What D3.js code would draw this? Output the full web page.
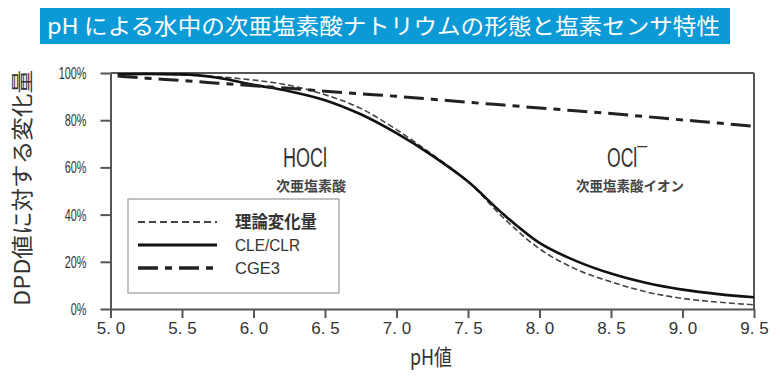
<!DOCTYPE html>
<html>
<head>
<meta charset="utf-8">
<script src="https://cdn.jsdelivr.net/npm/d3@7"></script>
<style>
body { margin:0; background:#fff; }
text { font-family: "Liberation Sans", "Noto Sans CJK JP", sans-serif; }
.jp { font-family: "Noto Sans CJK JP", sans-serif; }
</style>
</head>
<body>
<div class="chart"></div>
<script>
// pH values
const ph = [5.05, 5.25, 5.5, 5.75, 6.0, 6.25, 6.5, 6.75, 7.0, 7.25, 7.5, 7.75, 8.0, 8.25, 8.5, 8.75, 9.0, 9.25, 9.5]
const theory = [99.7, 99.6, 99.2, 98.4, 97, 94.8, 90.8, 85, 76, 65.5, 54, 38.5, 25.5, 17, 11.5, 7.2, 4.5, 2.9, 1.8]
const cleClr = [99.4, 99.6, 99.4, 98, 95, 92.3, 88.5, 82.5, 74.5, 65, 54, 40, 28, 20.5, 15, 11, 8.2, 6.3, 5]
const cge3 = [98.7, 97.8, 96.8, 95.7, 94.6, 93.5, 92.3, 91.2, 90.1, 88.9, 87.6, 86.4, 85.2, 84, 82.8, 81.5, 80.1, 78.8, 77.4]
const xTicks = [5.0, 5.5, 6.0, 6.5, 7.0, 7.5, 8.0, 8.5, 9.0, 9.5]
const yTicks = [0, 20, 40, 60, 80, 100]
const seriesNames = ["理論変化量", "CLE/CLR", "CGE3"]

const svg = d3.select(".chart").append("svg").attr("width", 780).attr("height", 376)

const x = d3.scaleLinear().domain([5, 9.5]).range([110.5, 754])
const y = d3.scaleLinear().domain([0, 100]).range([309, 73])

// title banner
svg.append("rect").attr("x", 40).attr("y", 8).attr("width", 690).attr("height", 36).attr("fill", "#0b9ad6")
svg.append("text").attr("class", "jp").attr("x", 47).attr("y", 34).attr("fill", "white")
   .attr("font-size", 22).attr("textLength", 673).attr("lengthAdjust", "spacingAndGlyphs")
   .text("pH による水中の次亜塩素酸ナトリウムの形態と塩素センサ特性")

// frame (top + right)
svg.append("line").attr("x1", x(5)).attr("x2", x(9.5)).attr("y1", y(100)).attr("y2", y(100))
   .attr("stroke", "#555").attr("stroke-width", 2)
svg.append("line").attr("x1", x(9.5)).attr("x2", x(9.5)).attr("y1", y(100)).attr("y2", y(0))
   .attr("stroke", "#555").attr("stroke-width", 2)

// axes
const yAxis = svg.append("g").attr("transform", `translate(${x(5)},0)`)
   .call(d3.axisLeft(y).tickValues(yTicks).tickSize(10).tickSizeOuter(0).tickFormat(d => d + "%"))
const xAxis = svg.append("g").attr("transform", `translate(0,${y(0)})`)
   .call(d3.axisBottom(x).tickValues(xTicks).tickSize(9).tickSizeOuter(0).tickPadding(4).tickFormat(d => d.toFixed(1).replace(".", ". ")))
;[xAxis, yAxis].forEach(a => {
  a.attr("font-size", null)
  a.select(".domain").attr("stroke", "#555").attr("stroke-width", 2)
  a.selectAll(".tick line").attr("stroke", "#555").attr("stroke-width", 2)
  a.selectAll(".tick text").attr("fill", "#333").attr("font-family", "Liberation Sans")
})
// condensed % labels
yAxis.selectAll(".tick text").style("font-size", "17px").attr("x", 0)
     .attr("transform", "translate(-24,0) scale(0.64,1)")
xAxis.selectAll(".tick text").style("font-size", "17px")

// axis titles
svg.append("text").attr("class", "jp").attr("transform", "translate(30,188) rotate(-90)")
   .attr("text-anchor", "middle").attr("font-size", 22).attr("fill", "#333")
   .attr("textLength", 236).attr("lengthAdjust", "spacingAndGlyphs").text("DPD値に対する変化量")
svg.append("text").attr("class", "jp").attr("x", 431).attr("y", 365).attr("text-anchor", "middle")
   .attr("font-size", 22).attr("fill", "#333").attr("textLength", 42).attr("lengthAdjust", "spacingAndGlyphs").text("pH値")

// curves
const line = d3.line().x(d => x(d[0])).y(d => y(d[1])).curve(d3.curveMonotoneX)
const styles = [
  {data: theory, width: 1.6, dash: "6,3", color: "#444"},
  {data: cleClr, width: 2.6, dash: null, color: "#111"},
  {data: cge3, width: 3, dash: "20,7,7,7", color: "#222"}
]
styles.forEach(s => {
  svg.append("path").datum(d3.zip(ph, s.data)).attr("d", line).attr("fill", "none")
     .attr("stroke", s.color).attr("stroke-width", s.width).attr("stroke-dasharray", s.dash)
})

// species labels
svg.append("text").attr("x", 305).attr("y", 167).attr("text-anchor", "middle").attr("font-size", 27)
   .attr("fill", "#333").attr("textLength", 44).attr("lengthAdjust", "spacingAndGlyphs").text("HOCl")
svg.append("text").attr("class", "jp").attr("x", 311).attr("y", 191).attr("text-anchor", "middle")
   .attr("font-size", 14).attr("font-weight", "bold").attr("fill", "#444").text("次亜塩素酸")
svg.append("text").attr("x", 627).attr("y", 167).attr("text-anchor", "middle").attr("font-size", 27)
   .attr("fill", "#333").attr("textLength", 40).attr("lengthAdjust", "spacingAndGlyphs").text("OCl¯")
svg.append("text").attr("class", "jp").attr("x", 630).attr("y", 191).attr("text-anchor", "middle")
   .attr("font-size", 13.5).attr("font-weight", "bold").attr("fill", "#444").text("次亜塩素酸イオン")

// legend
const legend = svg.append("g").attr("transform", "translate(128,199)")
legend.append("rect").attr("width", 211).attr("height", 94).attr("fill", "white")
      .attr("stroke", "#999").attr("stroke-width", 1.2)
const item = legend.selectAll(".legend").data(seriesNames).enter().append("g")
      .attr("class", "legend").attr("transform", (d, i) => `translate(0,${23 + i * 23})`)
item.append("line").attr("x1", 10).attr("x2", 89).attr("y1", 0).attr("y2", 0)
    .attr("stroke", (d, i) => styles[i].color).attr("stroke-width", (d, i) => styles[i].width + 0.6)
    .attr("stroke-dasharray", (d, i) => i == 0 ? "7,4" : styles[i].dash)
item.append("text").attr("x", 107).attr("y", 6).attr("font-size", 17).attr("fill", "#333")
    .attr("font-family", (d, i) => i == 0 ? "Noto Sans CJK JP" : "Liberation Sans")
    .attr("font-weight", (d, i) => i == 0 ? "bold" : "normal")
    .attr("textLength", (d, i) => [82, 65, 45][i]).attr("lengthAdjust", "spacingAndGlyphs")
    .text(d => d)
</script>
</body>
</html>
